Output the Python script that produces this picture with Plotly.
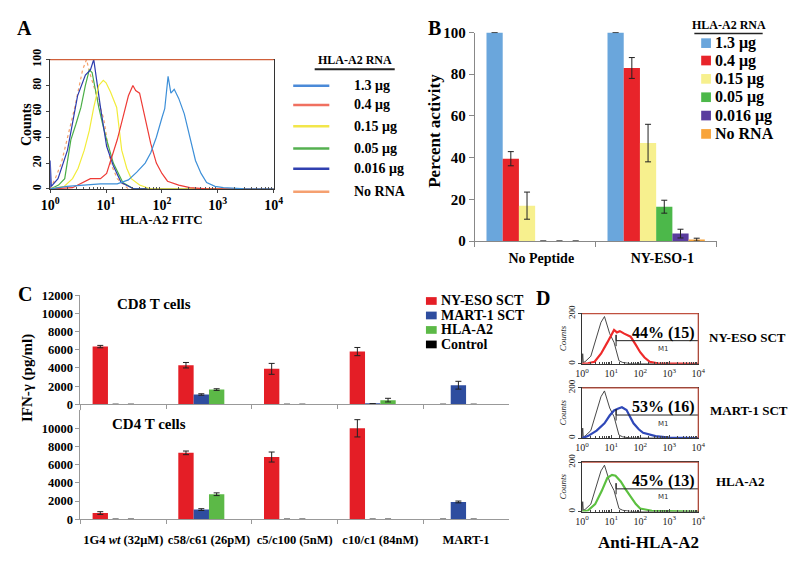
import math
import plotly.graph_objects as go

# The page adds an 8px body margin; the figure is sized to fill the remaining viewport
OFF = 8
W, H = 800 - OFF, 562 - OFF
def fx(p): return (p - OFF) / W
def fy(p): return 1 - (p - OFF) / H
SERIF = "Liberation Serif"

def bf(size, **kw):
    d = dict(family=SERIF, size=size, color="black", weight="bold")
    d.update(kw)
    return d

# ---------------- Panel A : flow histograms (x in log10 decades) ----------------
A_LABELS = ["1.3 μg", "0.4 μg", "0.15 μg", "0.05 μg", "0.016 μg", "No RNA"]
A_COLORS = ["#3d8fd8", "#ee3b36", "#f2ec3a", "#4aae46", "#2c3cae", "#f5a06a"]
A_LEG_COLORS = ["#4a8ad8", "#f07060", "#f2e64a", "#55b050", "#3040b0", "#f5a070"]
a13_x = [0, 0.3, 0.6, 0.9, 1.2, 1.4, 1.55, 1.7, 1.8, 1.9, 2.0, 2.05, 2.11, 2.16, 2.22, 2.3, 2.4, 2.5, 2.6, 2.7, 2.8, 2.95, 3.1, 3.5, 4.0]
a13_y = [0, 2, 3, 4, 4, 7, 13, 20, 28, 40, 55, 62, 87, 74, 77, 70, 58, 40, 22, 12, 5, 2, 1, 0, 0]
a04_x = [0, 0.4, 0.72, 0.9, 1.01, 1.1, 1.2, 1.3, 1.4, 1.48, 1.53, 1.6, 1.7, 1.8, 1.9, 2.0, 2.1, 2.3, 2.5, 2.8, 4.0]
a04_y = [0, 1, 8, 8, 12, 24, 38, 55, 72, 80, 76, 74, 55, 35, 20, 12, 6, 3, 1, 0, 0]
a015_x = [0, 0.25, 0.4, 0.5, 0.61, 0.7, 0.78, 0.87, 0.95, 1.0, 1.08, 1.19, 1.28, 1.37, 1.45, 1.6, 1.8, 4.0]
a015_y = [0, 2, 8, 16, 30, 45, 63, 80, 84, 82, 75, 63, 30, 16, 8, 3, 0, 0]
a005_x = [0, 0.15, 0.26, 0.37, 0.46, 0.55, 0.63, 0.7, 0.75, 0.8, 0.87, 0.94, 1.01, 1.13, 1.3, 1.5, 4.0]
a005_y = [0, 3, 8, 38, 50, 63, 80, 92, 90, 78, 63, 50, 38, 20, 5, 0, 0]
a0016_x = [0, 0, 0.02, 0.14, 0.31, 0.49, 0.63, 0.72, 0.78, 0.84, 0.9, 1.01, 1.13, 1.27, 1.5, 4.0]
a0016_y = [0, 22, 2, 8, 30, 72, 88, 92, 100, 80, 63, 33, 18, 5, 0, 0]
anorna_x = [0, 0.09, 0.2, 0.31, 0.44, 0.58, 0.65, 0.72, 0.85, 0.96, 1.08, 1.2, 1.4, 4.0]
anorna_y = [0, 8, 20, 40, 63, 92, 100, 88, 70, 54, 20, 8, 0, 0]
A_X = [a13_x, a04_x, a015_x, a005_x, a0016_x, anorna_x]
A_Y = [a13_y, a04_y, a015_y, a005_y, a0016_y, anorna_y]
A_DASH = ["solid", "solid", "solid", "solid", "solid", "dot"]
DECADE_TICKS = [0, 1, 2, 3, 4]
DECADE_TEXT = ["10<sup>0</sup>", "10<sup>1</sup>", "10<sup>2</sup>", "10<sup>3</sup>", "10<sup>4</sup>"]

# ---------------- Panel B : percent activity ----------------
B_CATS = ["No Peptide", "NY-ESO-1"]
B_COLORS = ["#6aa6dc", "#e8242a", "#f7f08e", "#4cb84a", "#5a3d9e", "#f8a43a"]
b_13 = [100, 100];   b_13_err = [0, 0]
b_04 = [39.5, 83];   b_04_err = [3.4, 5]
b_015 = [17, 47];    b_015_err = [6.5, 9]
b_005 = [0, 16.5];   b_005_err = [0, 3.1]
b_0016 = [0, 3.6];   b_0016_err = [0, 2.1]
b_norna = [0, 0.7];  b_norna_err = [0, 0.7]
B_VALS = [b_13, b_04, b_015, b_005, b_0016, b_norna]
B_ERRS = [b_13_err, b_04_err, b_015_err, b_005_err, b_0016_err, b_norna_err]

# ---------------- Panel C : IFN-gamma ----------------
C_CATS = ["1G4 <i>wt</i> (32μM)", "c58/c61 (26pM)", "c5/c100 (5nM)", "c10/c1 (84nM)", "MART-1"]
C_LABELS = ["NY-ESO SCT", "MART-1 SCT", "HLA-A2", "Control"]
C_COLORS = ["#e41e26", "#2e4d9f", "#5cb947", "#000000"]
cd8_nyeso = [6350, 4300, 3900, 5800, 0];  cd8_nyeso_err = [130, 300, 600, 450, 0]
cd8_mart = [0, 1080, 0, 60, 2100];        cd8_mart_err = [0, 80, 0, 0, 430]
cd8_a2 = [0, 1620, 0, 460, 0];            cd8_a2_err = [0, 90, 0, 200, 0]
cd8_ctrl = [0, 0, 0, 0, 0]
cd4_nyeso = [680, 7300, 6840, 10000, 0];  cd4_nyeso_err = [150, 200, 550, 950, 0]
cd4_mart = [0, 1060, 0, 0, 1900];         cd4_mart_err = [0, 100, 0, 0, 100]
cd4_a2 = [0, 2750, 0, 0, 0];              cd4_a2_err = [0, 150, 0, 0, 0]
cd4_ctrl = [0, 0, 0, 0, 0]
CD8_VALS = [cd8_nyeso, cd8_mart, cd8_a2, cd8_ctrl]
CD8_ERRS = [cd8_nyeso_err, cd8_mart_err, cd8_a2_err, None]
CD4_VALS = [cd4_nyeso, cd4_mart, cd4_a2, cd4_ctrl]
CD4_ERRS = [cd4_nyeso_err, cd4_mart_err, cd4_a2_err, None]
C_YTICKS_TOP = [0, 2000, 4000, 6000, 8000, 10000, 12000]
C_YTICKS_BOT = [0, 2000, 4000, 6000, 8000, 10000]

# ---------------- Panel D : anti-HLA-A2 histograms ----------------
D_LABELS = ["NY-ESO SCT", "MART-1 SCT", "HLA-A2"]
D_PCTS = ["44% (15)", "53% (16)", "45% (13)"]
D_COLORS = ["#ee2a2a", "#2f48b8", "#5cc040"]
ctrl_x = [0, 0.02, 0.04, 0.1, 0.3, 0.5, 0.65, 0.77, 0.85, 0.95, 1.1, 1.2, 1.27, 1.4, 1.7, 4.0]
ctrl_y = [0, 40, 5, 8, 30, 108, 165, 188, 160, 120, 85, 40, 12, 5, 0, 0]
d_nyeso_x = [0, 0.2, 0.43, 0.65, 0.87, 1.0, 1.1, 1.2, 1.3, 1.45, 1.67, 1.85, 2.0, 2.15, 2.33, 2.6, 4.0]
d_nyeso_y = [0, 2, 8, 40, 85, 115, 135, 125, 130, 120, 108, 75, 46, 25, 8, 2, 0]
d_mart_x = [0, 0.1, 0.2, 0.5, 0.77, 0.95, 1.1, 1.25, 1.37, 1.53, 1.65, 1.77, 1.95, 2.1, 2.53, 3.0, 4.0]
d_mart_y = [0, 3, 8, 30, 59, 90, 110, 118, 123, 112, 85, 59, 35, 21, 8, 2, 0]
d_a2_x = [0, 0.2, 0.45, 0.67, 0.87, 1.03, 1.15, 1.33, 1.5, 1.67, 1.85, 2.0, 2.4, 4.0]
d_a2_y = [0, 4, 30, 82, 137, 149, 145, 122, 90, 59, 30, 12, 3, 0]
D_X = [d_nyeso_x, d_mart_x, d_a2_x]
D_Y = [d_nyeso_y, d_mart_y, d_a2_y]
m1_x = [1.17, 1.17, 1.17, 4.0]
m1_y = [70, 115, 92, 92]

fig = go.Figure()

# Panel A traces
for i in [5, 3, 4, 2, 1, 0]:
    fig.add_trace(go.Scatter(x=A_X[i], y=A_Y[i], mode="lines", xaxis="x", yaxis="y",
                             line=dict(color=A_COLORS[i], width=1.2, dash=A_DASH[i]),
                             hoverinfo="skip", showlegend=False))

# Panel B bars
bw_b = 0.134
for i in range(6):
    fig.add_trace(go.Bar(x=B_CATS, y=B_VALS[i], xaxis="x2", yaxis="y2",
                         marker=dict(color=B_COLORS[i], line=dict(width=0)),
                         width=bw_b, offset=-0.403 + i * bw_b,
                         error_y=dict(type="data", array=B_ERRS[i], color="#222", thickness=1, width=3),
                         hoverinfo="skip", showlegend=False))

# Panel C bars
bw_c = 0.179
for vals, errs, xa, ya in [(CD8_VALS, CD8_ERRS, "x3", "y3"), (CD4_VALS, CD4_ERRS, "x4", "y4")]:
    for i in range(4):
        ey = dict(type="data", array=errs[i], color="#222", thickness=1, width=3) if errs[i] is not None else dict(visible=False)
        fig.add_trace(go.Bar(x=C_CATS, y=vals[i], xaxis=xa, yaxis=ya,
                             marker=dict(color=C_COLORS[i], line=dict(width=0)),
                             width=bw_c, offset=-0.358 + i * bw_c,
                             error_y=ey, hoverinfo="skip", showlegend=False))

# Panel D traces
for k in range(3):
    xa, ya = "x%d" % (5 + k), "y%d" % (5 + k)
    fig.add_trace(go.Scatter(x=ctrl_x, y=ctrl_y, mode="lines", xaxis=xa, yaxis=ya,
                             line=dict(color="#333", width=0.9), hoverinfo="skip", showlegend=False))
    fig.add_trace(go.Scatter(x=D_X[k], y=D_Y[k], mode="lines", xaxis=xa, yaxis=ya,
                             line=dict(color=D_COLORS[k], width=2.2), hoverinfo="skip", showlegend=False))
    fig.add_trace(go.Scatter(x=m1_x, y=m1_y, mode="lines", xaxis=xa, yaxis=ya,
                             line=dict(color="#222", width=1), hoverinfo="skip", showlegend=False))

layout = dict(width=W, height=H, margin=dict(l=0, r=0, t=0, b=0),
              paper_bgcolor="white", plot_bgcolor="white", barmode="overlay", showlegend=False,
              font=dict(family=SERIF, color="black"))

# Axis A
layout["xaxis"] = dict(domain=[fx(42), fx(271)], range=[0, 4], anchor="y", tickvals=DECADE_TICKS, ticktext=DECADE_TEXT,
                       tickfont=bf(14), showline=True, mirror=True, linecolor="#333", linewidth=1,
                       ticks="outside", ticklen=3, showgrid=False, zeroline=False,
                       minor=dict(tickvals=[k + math.log10(m) for k in range(4) for m in range(2, 10)], ticks="inside", ticklen=2, tickcolor="#555"))
layout["yaxis"] = dict(domain=[fy(184), fy(50)], range=[0, 100], anchor="x", tickvals=[0, 20, 40, 60, 80, 100],
                       tickangle=-90, tickfont=bf(12), showline=True, mirror=True, linecolor="#333", linewidth=1,
                       ticks="outside", ticklen=3, showgrid=False, zeroline=False)
# Axis B
layout["xaxis2"] = dict(domain=[fx(477), fx(725)], type="category", range=[-0.5, 1.5], anchor="y2",
                        tickson="boundaries", ticks="outside", ticklen=5, tickcolor="#888",
                        showline=True, linecolor="#888", tickfont=bf(14), showgrid=False, zeroline=False,
                        ticklabelshift=6, ticklabelstandoff=4)
layout["yaxis2"] = dict(domain=[fy(238), fy(22)], range=[0, 100], anchor="x2", tickvals=[0, 20, 40, 60, 80, 100],
                        ticks="outside", ticklen=5, tickcolor="#888", showline=True, linecolor="#888",
                        tickfont=bf(15), showgrid=False, zeroline=False)
# Axis C
for xa, ya, dom, show, yt in [("xaxis3", "yaxis3", [fy(407), fy(294)], False, C_YTICKS_TOP),
                              ("xaxis4", "yaxis4", [fy(526), fy(413)], True, C_YTICKS_BOT)]:
    n = xa[-1]
    layout[xa] = dict(domain=[fx(73), fx(512)], type="category", range=[-0.5, 4.5], anchor="y" + n,
                      tickson="boundaries", ticks="outside", ticklen=4, tickcolor="#999",
                      showline=True, linecolor="#999", showticklabels=show, tickfont=bf(12.5),
                      tickangle=0, showgrid=False, zeroline=False, ticklabelstandoff=9)
    layout[ya] = dict(domain=dom, range=[0, 12000], anchor="x" + n, tickvals=yt, tickformat="d",
                      ticks="outside", ticklen=4, tickcolor="#999", showline=True, linecolor="#999",
                      tickfont=bf(12.5), showgrid=False, zeroline=False)
# Axis D
D_DOMS = [[fy(365), fy(313)], [fy(442), fy(390)], [fy(518), fy(467)]]
for k in range(3):
    n = str(5 + k)
    layout["xaxis" + n] = dict(domain=[fx(587), fx(706)], range=[0, 4], anchor="y" + n,
                               tickvals=DECADE_TICKS, ticktext=DECADE_TEXT, tickfont=dict(family=SERIF, size=10, color="#222"),
                               showline=True, mirror=True, linecolor="#333", linewidth=1,
                               ticks="inside", ticklen=3, showgrid=False, zeroline=False,
                               minor=dict(tickvals=[j + math.log10(m) for j in range(4) for m in range(2, 10)], ticks="inside", ticklen=2, tickcolor="#444"))
    layout["yaxis" + n] = dict(domain=D_DOMS[k], range=[0, 200], anchor="x" + n, tickvals=[0, 200],
                               tickangle=-90, tickfont=dict(family=SERIF, size=9, color="#222"),
                               showline=True, mirror=True, linecolor="#333", linewidth=1,
                               ticks="outside", ticklen=3, showgrid=False, zeroline=False)

shapes = []
ann = []

def text(x, y, s, font, xanchor="center", yanchor="middle", textangle=0):
    ann.append(dict(x=fx(x), y=fy(y), xref="paper", yref="paper", text=s, showarrow=False,
                    font=font, xanchor=xanchor, yanchor=yanchor, textangle=textangle))

def hline(x0, x1, y, color, width):
    shapes.append(dict(type="line", xref="paper", yref="paper", x0=fx(x0), x1=fx(x1), y0=fy(y), y1=fy(y),
                       line=dict(color=color, width=width)))

def vline(x, y0, y1, color, width):
    shapes.append(dict(type="line", xref="paper", yref="paper", x0=fx(x), x1=fx(x), y0=fy(y0), y1=fy(y1),
                       line=dict(color=color, width=width)))

def rect(x0, x1, y0, y1, color):
    shapes.append(dict(type="rect", xref="paper", yref="paper", x0=fx(x0), x1=fx(x1), y0=fy(y0), y1=fy(y1),
                       line=dict(width=0), fillcolor=color))

# Panel letters
text(16, 17, "A", bf(20))
text(436, 17, "B", bf(20))
text(16, 293, "C", bf(20))
text(547, 297, "D", bf(20))

# Panel A decorations
hline(42, 271, 50, "#d0603a", 1.2)
text(17, 117, "Counts", bf(14), textangle=-90)
text(156, 216, "HLA-A2 FITC", bf(13))
text(354, 50, "HLA-A2 RNA", bf(12))
hline(313, 395, 60, "#222", 2)
A_ROWS = [77, 97, 119, 142, 163, 187]
for i in range(6):
    hline(291, 328, A_ROWS[i], A_LEG_COLORS[i], 2.5)
    text(351, A_ROWS[i], A_LABELS[i], bf(14), xanchor="left")

# Panel B decorations
text(435, 124, "Percent activity", bf(17), textangle=-90)
text(737, 14, "HLA-A2 RNA", bf(12))
hline(702, 772, 23, "#222", 1.5)
B_ROWS = [33, 51, 70, 89, 108, 127]
for i in range(6):
    rect(709, 719, B_ROWS[i] - 5, B_ROWS[i] + 5, B_COLORS[i])
    text(721, B_ROWS[i], A_LABELS[i], bf(16), xanchor="left")

# Panel C decorations
vline(73, 407, 413, "#999", 1)
text(18, 380, "IFN-γ (pg/ml)", bf(15), textangle=-90)
text(148, 303, "CD8 T cells", bf(15))
text(143, 427, "CD4 T cells", bf(15))
C_ROWS = [300, 315, 330, 345]
for i in range(4):
    rect(427, 438, C_ROWS[i] - 4, C_ROWS[i] + 4, C_COLORS[i])
    text(440, C_ROWS[i], C_LABELS[i], bf(14), xanchor="left")

# Panel D decorations
D_BOX = [(313, 365), (390, 442), (467, 518)]
D_TXT_Y = [333, 410, 486]
D_LAB_Y = [338, 413, 487]
D_LAB_X = [715, 716, 722]
for k in range(3):
    t, b = D_BOX[k]
    hline(587, 706, t, "#c0503f", 1.2)
    vline(706, t, b, "#c0503f", 1.2)
    text(705, D_TXT_Y[k], D_PCTS[k], bf(16), xanchor="right")
    text(670, D_TXT_Y[k] + 17, "M1", dict(family="DejaVu Sans", size=7, color="#333"))
    text(D_LAB_X[k], D_LAB_Y[k], D_LABELS[k], bf(13), xanchor="left")
    text(567, (t + b) / 2, "<i>Counts</i>", dict(family=SERIF, size=9, color="#222"), textangle=-90)
text(655, 550, "Anti-HLA-A2", bf(17))

layout["shapes"] = shapes
layout["annotations"] = ann
fig.update_layout(**layout)
fig.write_html("out.html")
